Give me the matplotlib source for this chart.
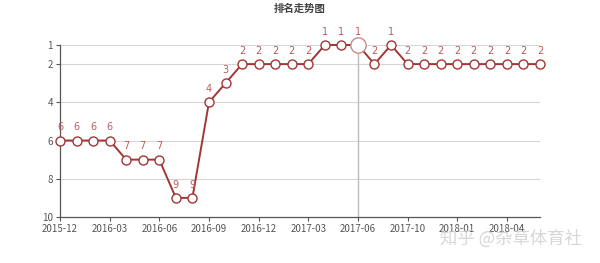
import matplotlib
matplotlib.use("Agg")
import matplotlib.pyplot as plt

plt.rcParams['font.family'] = ['Noto Sans CJK SC', 'DejaVu Sans']

months = ['2015-12', '2016-01', '2016-02', '2016-03', '2016-04', '2016-05',
          '2016-06', '2016-07', '2016-08', '2016-09', '2016-10', '2016-11',
          '2016-12', '2017-01', '2017-02', '2017-03', '2017-04', '2017-05',
          '2017-06', '2017-07', '2017-09', '2017-10', '2017-11', '2017-12',
          '2018-01', '2018-02', '2018-03', '2018-04', '2018-05', '2018-06']
ranks = [6, 6, 6, 6, 7, 7, 7, 9, 9, 4, 3, 2, 2, 2, 2, 2, 1, 1, 1, 2, 1,
         2, 2, 2, 2, 2, 2, 2, 2, 2]
y_ticks = [1, 2, 4, 6, 8, 10]
shown_months = ['2015-12', '2016-03', '2016-06', '2016-09', '2016-12',
                '2017-03', '2017-06', '2017-10', '2018-01', '2018-04']
pointer_month = '2017-06'

line_color = '#a23636'
label_color = '#c05a5a'
axis_color = '#555555'

fig = plt.figure(figsize=(6, 2.63), dpi=100)
ax = fig.add_axes([0.1, 0.175, 0.8, 0.654])

x = list(range(len(months)))
ax.set_xlim(0, len(months) - 1)
ax.set_ylim(10, 1)

for t in y_ticks[:-1]:
    ax.axhline(t, color='#d6d6d6', lw=0.8, zorder=0)

# axis pointer from the tooltip
px = months.index(pointer_month)
ax.axvline(px, color='#bbbbbb', lw=1, zorder=1)

ax.plot(x, ranks, color=line_color, lw=1.4, marker='o', ms=6.5,
        mfc='white', mec=line_color, mew=1.0, zorder=3, clip_on=False)
ax.plot([px], [ranks[px]], marker='o', ms=11, mfc='white', mec='#c98a8a',
        mew=1.0, zorder=4, clip_on=False)

for xi, r in zip(x, ranks):
    ax.annotate(str(r), (xi, r), xytext=(0, 6), textcoords='offset points',
                ha='center', va='bottom', fontsize=7, color=label_color,
                family=['DejaVu Sans'])

ax.set_yticks(y_ticks)
ax.set_yticklabels([str(t) for t in y_ticks])
ax.set_xticks([months.index(m) for m in shown_months])
ax.set_xticklabels(shown_months)
ax.tick_params(axis='both', labelsize=7, colors=axis_color, length=3,
               width=0.8, pad=2)

for side in ['top', 'right']:
    ax.spines[side].set_visible(False)
for side in ['left', 'bottom']:
    ax.spines[side].set_color(axis_color)
    ax.spines[side].set_linewidth(0.9)

fig.text(0.5, 0.965, '排名走势图', ha='center', va='center', fontsize=7.5,
         fontweight='bold', color='#444444')
fig.text(0.852, 0.092, '知乎 @杂草体育社', ha='center', va='center',
         fontsize=12.5, color='#cccccc', alpha=0.8)

fig.savefig('out.png', dpi=100)
